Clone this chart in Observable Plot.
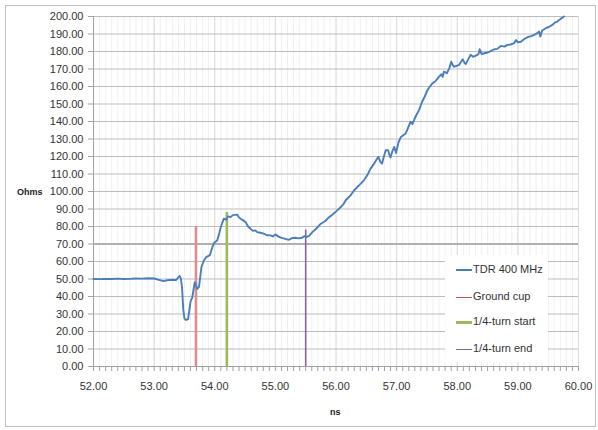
<!DOCTYPE html>
<html><head><meta charset="utf-8">
<script src="https://cdn.jsdelivr.net/npm/d3@7"></script>
<script src="https://cdn.jsdelivr.net/npm/@observablehq/plot@0.6"></script>
<style>
body{margin:0;background:#fff;}
#wrap{position:relative;width:598px;height:430px;font-family:"Liberation Sans",Arial,sans-serif;color:#333;}
#frame{position:absolute;left:5px;top:5px;width:591px;height:422px;border:1px solid #bfbfbf;box-sizing:border-box;pointer-events:none}
.lab{position:absolute;font-size:9px;font-weight:bold;color:#222}
#legend{position:absolute;left:445px;top:255px;width:103px;height:107px;background:#fff}
.li{position:absolute;left:11px;font-size:11px;color:#333;white-space:nowrap;height:14px;line-height:14px}
.sw{display:inline-block;width:16px;vertical-align:middle;margin-right:1px}
</style></head>
<body><div id="wrap"><div id="frame"></div></div>
<script>
// TDR 400 MHz trace (ns, Ohms)
const tdrNs = [52.00,52.10,52.20,52.30,52.40,52.50,52.60,52.70,52.80,52.90,53.00,53.08,53.15,53.22,53.30,53.36,53.40,53.42,53.44,53.46,53.48,53.50,53.52,53.56,53.58,53.60,53.63,53.65,53.67,53.69,53.71,53.74,53.76,53.78,53.82,53.86,53.92,53.96,53.99,54.04,54.07,54.10,54.15,54.19,54.22,54.26,54.30,54.37,54.40,54.43,54.47,54.51,54.55,54.59,54.63,54.67,54.70,54.75,54.81,54.86,54.92,54.96,55.00,55.04,55.09,55.15,55.22,55.27,55.33,55.38,55.44,55.48,55.52,55.56,55.61,55.68,55.75,55.82,55.88,55.95,56.02,56.08,56.13,56.16,56.24,56.30,56.38,56.46,56.52,56.57,56.62,56.68,56.70,56.73,56.76,56.79,56.82,56.86,56.88,56.90,56.93,56.96,56.99,57.03,57.07,57.15,57.19,57.23,57.26,57.29,57.33,57.37,57.42,57.46,57.51,57.55,57.59,57.64,57.70,57.74,57.76,57.78,57.83,57.87,57.90,57.93,57.95,57.99,58.03,58.06,58.09,58.12,58.14,58.18,58.22,58.26,58.30,58.35,58.37,58.40,58.45,58.50,58.55,58.61,58.66,58.72,58.78,58.83,58.88,58.94,58.97,59.00,59.05,59.10,59.16,59.22,59.27,59.32,59.35,59.37,59.40,59.46,59.51,59.57,59.61,59.65,59.70,59.76];
const tdrOhms = [50.0,49.9,50.1,50.0,50.2,50.0,50.1,50.3,50.2,50.4,50.3,49.5,48.8,49.3,49.6,49.4,51.0,51.8,50.5,45.3,33.0,27.5,26.6,27.0,32.0,37.0,39.5,44.0,48.1,46.5,44.3,45.5,51.0,56.7,60.6,62.5,63.6,68.2,70.7,72.0,75.5,79.7,84.5,83.9,85.8,85.4,86.5,86.8,85.2,84.3,83.5,82.5,80.0,78.7,77.5,77.8,76.8,76.4,75.9,75.0,74.9,74.3,75.5,74.5,73.6,73.1,72.4,73.3,73.6,73.2,73.6,74.5,74.0,74.8,76.8,79.0,81.6,83.0,85.2,87.0,89.2,91.1,93.1,95.0,97.8,100.7,103.5,106.4,109.5,113.1,115.5,118.8,119.8,117.0,116.0,120.0,123.6,123.6,121.0,119.4,123.0,125.5,122.0,128.0,131.2,133.2,136.5,139.8,138.5,141.0,144.0,146.5,151.3,154.0,158.0,160.0,161.8,163.0,165.6,167.0,165.5,168.5,167.6,170.5,174.2,172.0,171.3,171.8,172.3,174.0,175.6,173.5,172.8,175.5,178.1,177.0,177.5,178.5,181.3,178.6,179.0,179.4,180.2,181.3,181.5,183.2,182.8,183.8,184.0,184.8,186.6,185.2,185.6,187.0,188.2,188.8,189.5,190.5,191.4,188.5,192.0,193.3,194.0,195.2,196.5,197.1,198.5,200.0];

// Marker lines
const markerNames = ["Ground cup", "1/4-turn start", "1/4-turn end"];
const markerX = [53.69, 54.20, 55.50];
const markerTop = [80, 88, 78];
const markerColors = ["#dc8e8c", "#9bbb59", "#8064a2"];
const markerWidths = [2.6, 2.6, 1.6];

// Axes
const xTicks = [52, 53, 54, 55, 56, 57, 58, 59, 60];
const xMinorTicks = d3.range(520, 601).map(d => d / 10);
const yTicks = [0,10,20,30,40,50,60,70,80,90,100,110,120,130,140,150,160,170,180,190,200];
const emphasisY = [70];

const data = tdrNs.map((x, i) => ({x, y: tdrOhms[i]}));

const marks = [
  Plot.ruleX(xMinorTicks, {stroke: "#f0f0f0", strokeWidth: 1}),
  Plot.ruleX(xTicks.slice(1), {stroke: "#dcdcdc", strokeWidth: 1}),
  Plot.ruleY(yTicks.slice(1), {stroke: "#bdbdbd", strokeWidth: 1}),
  Plot.ruleY(emphasisY, {stroke: "#b0b0b0", strokeWidth: 2}),
  Plot.axisX(xMinorTicks, {tickSize: 5, tickFormat: () => "", stroke: "#a0a0a0"}),
  Plot.axisX(xTicks, {tickSize: 0, tickPadding: 16, tickFormat: d3.format(".2f"), fontSize: 11, fill: "#333"}),
  Plot.axisY(yTicks, {tickSize: 5, tickPadding: 5, tickFormat: d3.format(".2f"), fontSize: 11, fill: "#333", stroke: "#a0a0a0"}),
  Plot.ruleY([0], {stroke: "#a0a0a0"}),
  Plot.ruleX([52], {stroke: "#a0a0a0"})
];
markerX.forEach((mx, i) => {
  marks.push(Plot.ruleX([{x: mx, top: markerTop[i]}], {x: "x", y1: 0, y2: "top", stroke: markerColors[i], strokeWidth: markerWidths[i]}));
});
marks.push(Plot.line(data, {x: "x", y: "y", stroke: "#4a7ebb", strokeWidth: 1.9, curve: "linear"}));

const chart = Plot.plot({
  width: 598, height: 430,
  marginLeft: 93, marginRight: 20, marginTop: 16, marginBottom: 64,
  style: {fontFamily: "Liberation Sans, Arial, sans-serif", fontSize: "11px", background: "transparent"},
  x: {domain: [52, 60], label: null},
  y: {domain: [0, 200], label: null},
  marks
});
const wrap = document.getElementById("wrap");
chart.style.position = "absolute";
chart.style.left = "0px";
chart.style.top = "0px";
wrap.prepend(chart);

function addLabel(text, left, top) {
  const d = document.createElement("div");
  d.className = "lab"; d.textContent = text;
  d.style.left = left + "px"; d.style.top = top + "px";
  wrap.appendChild(d);
}
addLabel("Ohms", 17, 187);
addLabel("ns", 330, 407);

// Legend
const legendNames = ["TDR 400 MHz"].concat(markerNames);
const legendColors = ["#4a7ebb"].concat(["#c0504d", "#9bbb59", "#8064a2"]);
const legendWidths = [2, 1, 3, 1.5];
const legendTops = [7, 34, 59, 86];
const lg = document.createElement("div");
lg.id = "legend";
legendNames.forEach((name, i) => {
  const it = document.createElement("div");
  it.className = "li"; it.style.top = legendTops[i] + "px";
  const sw = document.createElement("span");
  sw.className = "sw"; sw.style.borderTop = legendWidths[i] + "px solid " + legendColors[i];
  it.appendChild(sw);
  it.appendChild(document.createTextNode(name));
  lg.appendChild(it);
});
wrap.appendChild(lg);
</script>
</body></html>
